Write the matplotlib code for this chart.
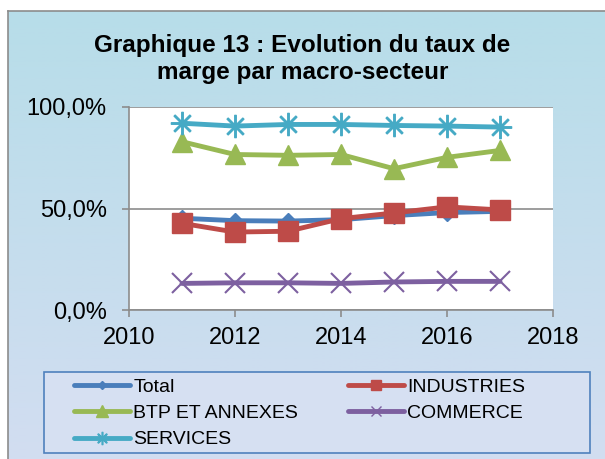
import matplotlib
matplotlib.use("Agg")
import matplotlib.pyplot as plt
import numpy as np
from matplotlib.ticker import FuncFormatter
from matplotlib.patches import Rectangle

plt.rcParams['font.family'] = ['Liberation Sans', 'DejaVu Sans']

years = [2011, 2012, 2013, 2014, 2015, 2016, 2017]
total = [45.2, 44.0, 43.8, 44.5, 46.5, 48.0, 48.6]
industries = [42.7, 38.4, 38.8, 45.0, 47.8, 50.8, 49.3]
btp = [82.9, 76.6, 76.2, 76.6, 69.6, 75.2, 78.6]
commerce = [13.1, 13.4, 13.4, 13.1, 13.8, 14.1, 14.1]
services = [92.0, 90.6, 91.4, 91.4, 90.9, 90.6, 90.1]

series = [
    ("Total", total, "#4a7ebb", "D", 8),
    ("INDUSTRIES", industries, "#be4b48", "s", 14),
    ("BTP ET ANNEXES", btp, "#98b954", "^", 15),
    ("COMMERCE", commerce, "#7d60a0", "x", 14),
    ("SERVICES", services, "#46aac5", "$\u2733$", 16),
]

fig = plt.figure(figsize=(6.05, 4.59), dpi=100)

# background gradient panel
bg = fig.add_axes([0, 0, 1, 1], zorder=-10)
bg.set_xlim(0, 605)
bg.set_ylim(459, 0)
bg.axis('off')
top = np.array([183, 221, 233]) / 255
bot = np.array([210, 221, 241]) / 255
t = np.linspace(0, 1, 256)[:, None]
grad = (top[None, :] * (1 - t) + bot[None, :] * t)[:, None, :]
bg.imshow(grad, extent=[8, 605, 459, 11], aspect='auto', zorder=0)
bg.plot([8, 605], [11, 11], color='#8c8c8c', lw=1.2, zorder=2)
bg.plot([8, 8], [11, 459], color='#8c8c8c', lw=1.2, zorder=2)
bg.add_patch(Rectangle((44, 372), 546, 81, facecolor='#d6e0f2', edgecolor='#4f81bd',
                       lw=1.2, zorder=3))

ax = fig.add_axes([0.2132, 0.3246, 0.7008, 0.4423])
ax.set_facecolor('white')

handles = {}
for name, vals, col, mk, ms in series:
    kw = dict(color=col, lw=3.5, marker=mk, markersize=ms, label=name,
              markerfacecolor=col, markeredgecolor=col, solid_capstyle='round')
    if mk == 'x':
        kw['markeredgewidth'] = 1.5
    ax.plot(years, vals, **kw)
    h, = ax.plot([], [], color=col, lw=3.5, marker=mk, markersize=ms * 0.55,
                 markerfacecolor=col, markeredgecolor=col, solid_capstyle='round')
    handles[name] = h

ax.set_xlim(2010, 2018)
ax.set_ylim(0, 100)
ax.set_xticks([2010, 2012, 2014, 2016, 2018])
ax.set_yticks([0, 50, 100])
ax.yaxis.set_major_formatter(FuncFormatter(lambda v, p: f"{v:.1f}".replace('.', ',') + "%"))
ax.grid(axis='y', color='#8c8c8c', lw=1.2)
ax.set_axisbelow(True)
for s in ['top', 'right']:
    ax.spines[s].set_visible(False)
for s in ['left', 'bottom']:
    ax.spines[s].set_color('#8c8c8c')
    ax.spines[s].set_linewidth(1.2)
ax.tick_params(axis='both', colors='#8c8c8c', length=5, width=1.2, labelsize=17,
               labelcolor='black')
ax.tick_params(axis='y', pad=11)
ax.tick_params(axis='x', pad=7)

fig.text(0.5, 0.872, "Graphique 13 : Evolution du taux de\nmarge par macro-secteur",
         ha='center', va='center', fontsize=17.5, fontweight='bold', linespacing=1.25)

order = ["Total", "BTP ET ANNEXES", "SERVICES", "INDUSTRIES", "COMMERCE"]
leg = fig.legend([handles[n] for n in order], order, loc='upper left',
                 bbox_to_anchor=(74 / 605, 1 - 378 / 459),
                 ncol=2, fontsize=14, frameon=False,
                 handlelength=2.9, handletextpad=0.15, labelspacing=0.45,
                 borderaxespad=0, columnspacing=2.55, borderpad=0)

fig.savefig("out.png", dpi=100)
